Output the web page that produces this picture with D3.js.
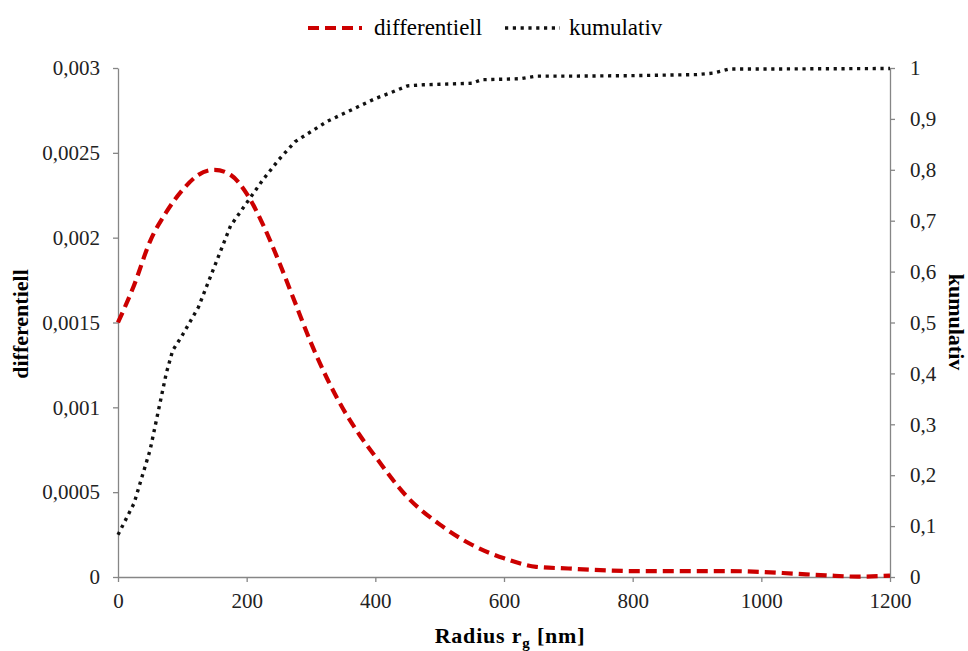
<!DOCTYPE html>
<html><head><meta charset="utf-8"><script src="https://cdn.jsdelivr.net/npm/d3@7"></script></head>
<body style="margin:0">
<svg id="chart" width="968" height="651"></svg>
<script>
// radius [nm] and differential distribution (left axis)
var diffRadius = [0, 25, 50, 75, 100, 125, 150, 175, 200, 225, 250, 275, 300, 325, 350, 375, 400, 450, 500, 550, 600, 650, 700, 750, 800, 900, 950, 1000, 1050, 1100, 1150, 1200];
var diffValues = [0.0015, 0.00172, 0.00198, 0.00215, 0.00228, 0.00237, 0.0024, 0.00237, 0.00226, 0.00208, 0.00186, 0.00162, 0.00138, 0.00117, 0.00099, 0.00084, 0.00071, 0.00047, 0.00031, 0.00019, 0.00011, 0.00006, 0.00005, 0.00004, 0.000035, 0.000035, 0.000035, 0.00003, 0.00002, 0.00001, 0.000002, 0.000008];

// cumulative distribution (right axis)
var cumRadius = [0, 25, 50, 75, 85, 100, 125, 150, 175, 200, 225, 250, 275, 300, 325, 350, 375, 400, 425, 450, 475, 500, 550, 565, 600, 625, 650, 700, 800, 900, 925, 950, 1000, 1200];
var cumValues = [0.083, 0.145, 0.25, 0.40, 0.445, 0.475, 0.53, 0.61, 0.69, 0.735, 0.78, 0.82, 0.855, 0.875, 0.895, 0.91, 0.925, 0.94, 0.952, 0.965, 0.967, 0.968, 0.97, 0.977, 0.978, 0.979, 0.984, 0.984, 0.985, 0.987, 0.99, 0.998, 0.998, 0.999];

var xTicks = [0, 200, 400, 600, 800, 1000, 1200];
var leftTicks = [0, 0.0005, 0.001, 0.0015, 0.002, 0.0025, 0.003];
var rightTicks = [0, 0.1, 0.2, 0.3, 0.4, 0.5, 0.6, 0.7, 0.8, 0.9, 1];

var mLeft = 118, mRight = 890, mTop = 68, mBottom = 577;
var axisColor = "#868686";
var redColor = "#cc0000";

var svg = d3.select("#chart");

var x = d3.scaleLinear().domain([0, 1200]).range([mLeft, mRight]);
var yL = d3.scaleLinear().domain([0, 0.003]).range([mBottom, mTop]);
var yR = d3.scaleLinear().domain([0, 1]).range([mBottom, mTop]);

var comma = function(d){ return String(d).replace(".", ","); };

// same style form for all labels
function label(sel, size, bold) {
  sel.style("font-family", "'Liberation Serif'").style("font-size", size + "px");
  if (bold) sel.style("font-weight", "bold");
  return sel;
}

function styleAxis(g) {
  g.attr("font-family", null).attr("font-size", null);
  g.select(".domain").attr("stroke", axisColor).attr("stroke-width", 1.3);
  g.selectAll(".tick line").attr("stroke", axisColor).attr("stroke-width", 1.3);
  g.selectAll(".tick text").attr("fill", "#222").call(label, 21, false);
}

svg.append("g")
  .attr("transform", "translate(0," + mBottom + ")")
  .call(d3.axisBottom(x).tickValues(xTicks).tickFormat(d3.format("d")).tickSize(5).tickSizeOuter(0).tickPadding(11))
  .call(styleAxis);

svg.append("g")
  .attr("transform", "translate(" + mLeft + ",0)")
  .call(d3.axisLeft(yL).tickValues(leftTicks).tickFormat(comma).tickSize(5).tickSizeOuter(0).tickPadding(13))
  .call(styleAxis);

svg.append("g")
  .attr("transform", "translate(" + mRight + ",0)")
  .call(d3.axisRight(yR).tickValues(rightTicks).tickFormat(comma).tickSize(5).tickSizeOuter(0).tickPadding(15))
  .call(styleAxis);

// lines
var diffLine = d3.line()
  .x(function(d){ return x(d[0]); })
  .y(function(d){ return yL(d[1]); })
  .curve(d3.curveMonotoneX);

var cumLine = d3.line()
  .x(function(d){ return x(d[0]); })
  .y(function(d){ return yR(d[1]); });

svg.append("path")
  .datum(d3.zip(cumRadius, cumValues))
  .attr("d", cumLine)
  .attr("fill", "none")
  .attr("stroke", "#111")
  .attr("stroke-width", 3.4)
  .attr("stroke-dasharray", "3.2,4.6");

svg.append("path")
  .datum(d3.zip(diffRadius, diffValues))
  .attr("d", diffLine)
  .attr("fill", "none")
  .attr("stroke", redColor)
  .attr("stroke-width", 4.2)
  .attr("stroke-dasharray", "11,6");

// axis titles
svg.append("text")
  .attr("transform", "translate(28,324) rotate(-90)")
  .attr("text-anchor", "middle")
  .call(label, 22, true)
  .text("differentiell");

svg.append("text")
  .attr("transform", "translate(949,322) rotate(90)")
  .attr("text-anchor", "middle")
  .call(label, 22, true)
  .text("kumulativ");

var xt = svg.append("text")
  .attr("x", 510)
  .attr("y", 643)
  .attr("text-anchor", "middle")
  .call(label, 22, true)
  .style("letter-spacing", "0.8px");
xt.append("tspan").text("Radius r");
xt.append("tspan").style("font-size", "15px").attr("dy", 5).text("g");
xt.append("tspan").attr("dy", -5).text(" [nm]");

// legend
var legend = svg.append("g").attr("transform", "translate(0,28)");
legend.append("line")
  .attr("x1", 308).attr("x2", 362).attr("y1", 0).attr("y2", 0)
  .attr("stroke", redColor).attr("stroke-width", 4.2).attr("stroke-dasharray", "11,6");
legend.append("text").attr("x", 374).attr("y", 7)
  .call(label, 23, false)
  .text("differentiell");
legend.append("line")
  .attr("x1", 505).attr("x2", 560).attr("y1", 0).attr("y2", 0)
  .attr("stroke", "#111").attr("stroke-width", 3.4).attr("stroke-dasharray", "3.2,4.6");
legend.append("text").attr("x", 569).attr("y", 7)
  .call(label, 23, false)
  .text("kumulativ");
</script>
</body></html>
